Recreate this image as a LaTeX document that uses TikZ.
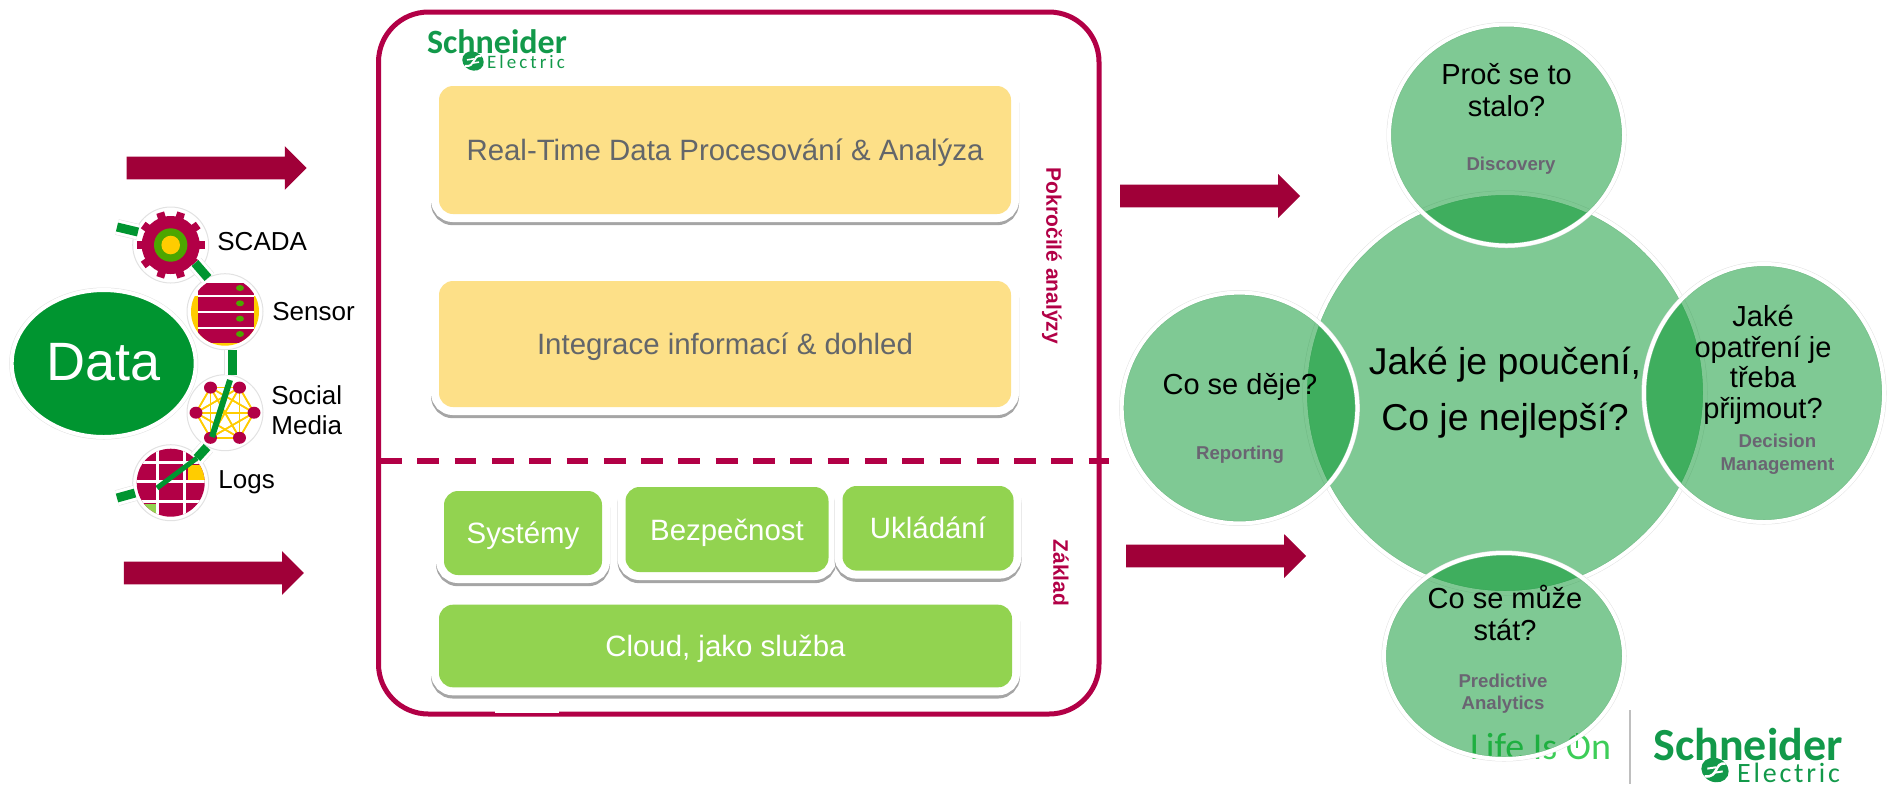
\documentclass[tikz,border=0pt]{standalone}
\usepackage{fontspec}
\usetikzlibrary{shapes.geometric, shapes.arrows}
\setmainfont{Liberation Sans}
\newfontfamily\logofont{Carlito}
\newfontfamily\elecfont[LetterSpace=16]{Carlito}
\newfontfamily\elecbigfont[LetterSpace=10]{Carlito}
\definecolor{crimson}{HTML}{B20046}
\definecolor{arrowred}{HTML}{A00038}
\definecolor{tileyellow}{HTML}{FDE088}
\definecolor{tilegreen}{HTML}{92D350}
\definecolor{tilegrey}{HTML}{63666A}
\definecolor{shadowgrey}{HTML}{A5A5A5}
\definecolor{ringgrey}{HTML}{E2E2E2}
\definecolor{datagreen}{HTML}{009530}
\definecolor{circlegreen}{HTML}{009329}
\definecolor{logogreen}{HTML}{12994A}
\definecolor{lifegreen}{HTML}{3DCD58}
\definecolor{smallgrey}{HTML}{6A6472}
\definecolor{iconyellow}{HTML}{FFCC00}
\definecolor{icongreen}{HTML}{4CA600}
\tikzset{
    tile/.style={rectangle, rounded corners=7pt, inner sep=0pt, text=white,
        text height=10.5pt, text depth=0pt,
        font=\fontsize{14.7}{17}\selectfont,
        preaction={draw=shadowgrey, line width=8pt, transform canvas={yshift=-1.6pt}},
        preaction={draw=white, line width=8pt}},
    bigarrow/.style={single arrow, fill=arrowred, inner sep=0pt, minimum height=90pt,
        text height=11pt, text depth=0pt, minimum width=21.5pt, single arrow head extend=5.25pt},
    bubble/.style={ellipse, inner sep=0pt, fill=circlegreen, fill opacity=0.5, draw=white, line width=2pt,
        preaction={draw=ringgrey, line width=2.5pt}},
    question/.style={align=center, font=\fontsize{14.5}{16}\selectfont},
    smalltag/.style={align=center, text=smallgrey, font=\bfseries\fontsize{9.3}{11.3}\selectfont},
    sidetag/.style={rotate=-90, text=crimson, font=\bfseries\fontsize{10.5}{12}\selectfont},
    iconring/.style={circle, inner sep=0pt, fill=white, draw=ringgrey, line width=0.5pt, minimum size=38pt},
    iconlabel/.style={anchor=west, inner sep=0pt, font=\fontsize{13}{15}\selectfont},
    datalink/.style={draw=datagreen, line width=4.5pt,
        preaction={draw=ringgrey, line width=8pt},
        preaction={draw=white, line width=7.5pt}},
    pics/semark/.style={code={
        \fill[logogreen, rotate=-25] (0,0) ellipse ({#1} and {0.85*#1});
        \draw[white, line width=#1*0.09pt] (0.75*#1,-0.45*#1) .. controls (-0.1*#1,-0.6*#1) and (0.3*#1,0.6*#1) .. (-0.75*#1,0.45*#1);
        \draw[white, line width=#1*0.07pt] (-0.55*#1,-0.1*#1) -- (0.1*#1,-0.2*#1);
        \draw[white, line width=#1*0.07pt] (0.55*#1,0.1*#1) -- (-0.1*#1,0.2*#1);
    }}
}
\begin{document}
\begin{tikzpicture}[x=0.5pt, y=-0.5pt]
    \useasboundingbox (0,0) rectangle (1889,784);

    \node (data) at (103.7,363.5) [ellipse, inner sep=0pt, fill=datagreen, draw=white, line width=2pt,
        minimum width=92pt, minimum height=73.5pt, preaction={draw=ringgrey, line width=2.5pt}] {};
    \node (datatext) at (103.7,362) [text=white, font=\fontsize{27}{30}\selectfont] {Data};

    \node (scada) at (170.7,245) [iconring] {};
    \node (sensor) at (225,311.7) [iconring] {};
    \node (social) at (225,412.7) [iconring] {};
    \node (logs) at (170.7,482.7) [iconring] {};

    \begin{scope}[shift={(scada)}]
        \fill[crimson] (0,0) circle (29);
        \foreach \toothangle in {0,36,...,324}
            \draw[crimson, line width=4pt] (\toothangle:26) -- (\toothangle:34);
        \fill[icongreen] (0,0) circle (16.7);
        \fill[iconyellow] (0,0) circle (9.3);
    \end{scope}

    \begin{scope}[shift={(sensor)}]
        \clip (0,0) circle (34);
        \fill[iconyellow] (-36,-16) rectangle (36,36);
        \fill[crimson] (-27.3,-29) rectangle (29,31.3);
        \foreach \rowy in {-15.7,0.6,16.6}
            \draw[white, line width=0.9pt] (-27.3,\rowy) -- (29,\rowy);
        \foreach \doty in {-23.7,-8.4,7,22.3}
            \fill[icongreen] (15,\doty) ellipse (4 and 3);
    \end{scope}

    \begin{scope}[shift={(social)}]
        \foreach \spokea in {0,60,...,300}
            \foreach \spokeb in {0,60,...,300}
                \draw[iconyellow, line width=0.8pt] (\spokea:29) -- (\spokeb:29);
        \foreach \spokea in {0,60,...,300}
            \fill[crimson] (\spokea:29) ellipse (6.5 and 6);
    \end{scope}

    \begin{scope}[shift={(logs)}]
        \clip (0,0) circle (34);
        \fill[crimson] (-36,-36) rectangle (36,36);
        \fill[iconyellow] (17,-18) rectangle (36,-2);
        \fill[tilegreen] (-36,21) rectangle (-13,36);
        \foreach \gridx in {-13,14}
            \draw[white, line width=1.4pt] (\gridx,-36) -- (\gridx,36);
        \foreach \gridy in {-20,-1,19}
            \draw[white, line width=1.4pt] (-36,\gridy) -- (36,\gridy);
    \end{scope}

    \coordinate (linkastart) at (117,227);
    \coordinate (linkaend) at (138,232);
    \coordinate (linkbstart) at (195,263);
    \coordinate (linkbend) at (208,278);
    \coordinate (linkcstart) at (232,350);
    \coordinate (linkcend) at (232,375);
    \coordinate (linkdstart) at (207,447);
    \coordinate (linkdend) at (197,458);
    \coordinate (linkestart) at (135,493);
    \coordinate (linkeend) at (117,498);
    \draw[datalink] (linkastart) -- (linkaend);
    \draw[datalink] (linkbstart) -- (linkbend);
    \draw[datalink] (linkcstart) -- (linkcend);
    \draw[datalink] (linkdstart) -- (linkdend);
    \draw[datalink] (linkestart) -- (linkeend);
    \coordinate (socialtop) at (230,380);
    \coordinate (socialbottom) at (212,437);
    \coordinate (logstop) at (197,458);
    \coordinate (logsbottom) at (157,488);
    \draw[draw=datagreen, line width=3pt] (socialtop) -- (socialbottom);
    \draw[draw=datagreen, line width=2.5pt] (logstop) -- (logsbottom);

    \node (scadatext) at (217,242) [iconlabel] {SCADA};
    \node (sensortext) at (272,312) [iconlabel] {Sensor};
    \node (socialtext) at (271,410) [iconlabel, align=left] {Social\\Media};
    \node (logstext) at (218,482) [iconlabel] {Logs};

    \node (arrowa) at (211,168) [bigarrow] {};
    \node (arrowb) at (208.2,573) [bigarrow] {};
    \node (arrowc) at (1204.3,196) [bigarrow] {};
    \node (arrowd) at (1210.3,556) [bigarrow] {};

    \node (frame) at (738.75,363) [rectangle, draw=crimson, line width=2.5pt, rounded corners=25pt,
        minimum width=360.25pt, minimum height=351pt] {};
    \node (notch) at (527,711.5) [rectangle, fill=white, inner sep=0pt, minimum width=32pt, minimum height=1.7pt] {};
    \coordinate (dividerleft) at (380,460.7);
    \coordinate (dividerright) at (1109,460.7);
    \draw[crimson, line width=2.8pt, dash pattern=on 10.9pt off 7.75pt] (dividerleft) -- (dividerright);

    \node (logotop) at (497,42) [text=logogreen, font=\logofont\bfseries\fontsize{17}{20}\selectfont] {Schneider};
    \node (electrictop) at (526,62) [text=logogreen, font=\elecfont\fontsize{9.5}{11}\selectfont] {Electric};
    \pic at (473,61) {semark=11};

    \node (realtime) at (725,150) [tile, fill=tileyellow, text=tilegrey, minimum width=286pt, minimum height=64pt] {Real-Time Data Procesování \& Analýza};
    \node (integrace) at (725,344) [tile, fill=tileyellow, text=tilegrey, minimum width=286pt, minimum height=63pt] {Integrace informací \& dohled};
    \node (systemy) at (523,533) [tile, fill=tilegreen, minimum width=79pt, minimum height=42pt] {Systémy};
    \node (bezpecnost) at (727,529.5) [tile, fill=tilegreen, minimum width=101.5pt, minimum height=42.5pt] {Bezpečnost};
    \node (ukladani) at (928,528.3) [tile, fill=tilegreen, minimum width=85.5pt, minimum height=42.3pt] {Ukládání};
    \node (cloud) at (725.5,646) [tile, fill=tilegreen, minimum width=286.5pt, minimum height=41.3pt] {Cloud, jako služba};

    \node (pokrocile) at (1052,256) [sidetag] {Pokročilé analýzy};
    \node (zaklad) at (1061,573) [sidetag] {Základ};

    \node (lifeison) at (1540.5,747) [text=lifegreen, font=\logofont\fontsize{19}{22}\selectfont] {Life Is On};
    \coordinate (powertop) at (1577,733);
    \coordinate (powerbottom) at (1577,748);
    \draw[lifegreen, line width=1pt, preaction={draw=white, line width=2.4pt}] (powertop) -- (powerbottom);
    \coordinate (ruletop) at (1630,710);
    \coordinate (rulebottom) at (1630,784);
    \draw[black!25, line width=0.8pt] (ruletop) -- (rulebottom);
    \node (logobottom) at (1748,745) [text=logogreen, font=\logofont\bfseries\fontsize{23}{26}\selectfont] {Schneider};
    \node (electricbottom) at (1788.5,773) [text=logogreen, font=\elecbigfont\fontsize{14}{16}\selectfont] {Electric};
    \pic at (1715,770) {semark=14};

    \node (center) at (1505,393) [bubble, minimum width=200pt, minimum height=200pt] {};
    \node (discovery) at (1506.5,135) [bubble, minimum width=117.5pt, minimum height=110.5pt] {};
    \node (reporting) at (1239.5,408) [bubble, minimum width=117.8pt, minimum height=115.4pt] {};
    \node (decision) at (1764,393) [bubble, minimum width=120pt, minimum height=129pt] {};
    \node (predictive) at (1504,656) [bubble, minimum width=120pt, minimum height=103pt] {};

    \node (centertext) at (1505,392.5) [align=center, font=\fontsize{18.7}{27.8}\selectfont] {Jaké je poučení,\\Co je nejlepší?};
    \node (discoveryq) at (1506.6,90) [question] {Proč se to\\stalo?};
    \node (discoverytag) at (1511,165.6) [smalltag] {Discovery};
    \node (reportingq) at (1240,387) [question] {Co se děje?};
    \node (reportingtag) at (1240,455) [smalltag] {Reporting};
    \node (decisionq) at (1763,365) [question, font=\fontsize{14.5}{15.3}\selectfont] {Jaké\\opatření je\\třeba\\přijmout?};
    \node (decisiontag) at (1777.4,454) [smalltag] {Decision\\Management};
    \node (predictiveq) at (1505,613) [question] {Co se může\\stát?};
    \node (predictivetag) at (1503,693.7) [smalltag] {Predictive\\Analytics};
\end{tikzpicture}
\end{document}
